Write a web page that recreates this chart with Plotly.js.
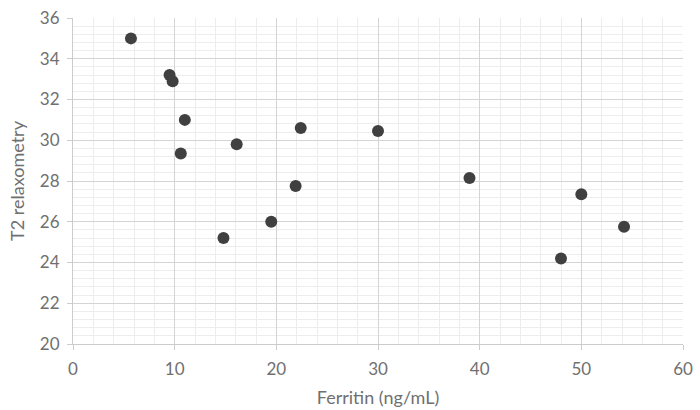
<!DOCTYPE html>
<html>
<head>
<meta charset="utf-8">
<script src="https://cdn.plot.ly/plotly-3.0.1.min.js"></script>
<style>html,body{margin:0;padding:0;background:#fff;}#chart{width:700px;height:410px;}</style>
</head>
<body>
<div id="chart"></div>
<script>
var ferritin = [5.7, 9.5, 9.8, 11.0, 10.6, 16.1, 14.8, 19.5, 22.4, 21.9, 30.0, 39.0, 48.0, 50.0, 54.2];
var t2 = [35.0, 33.2, 32.9, 31.0, 29.35, 29.8, 25.2, 26.0, 30.6, 27.75, 30.45, 28.15, 24.2, 27.35, 25.75];
var xTitle = "Ferritin (ng/mL)";
var yTitle = "T2 relaxometry";

var tickFont = {family: "Lato, 'Open Sans', sans-serif", size: 17, color: "#707070"};
var titleFont = {family: "Lato, 'Open Sans', sans-serif", size: 18, color: "#707070"};
Plotly.newPlot("chart", [{
  type: "scatter", mode: "markers",
  x: ferritin, y: t2,
  marker: {size: 12, color: "#404040"},
  hoverinfo: "x+y"
}], {
  width: 700, height: 410,
  margin: {l: 73, r: 17, t: 18, b: 66},
  paper_bgcolor: "#fff", plot_bgcolor: "#fff",
  showlegend: false,
  font: tickFont,
  xaxis: {
    range: [0, 60], dtick: 10, tick0: 0,
    showgrid: true, gridcolor: "#d4d4d4", gridwidth: 1,
    minor: {dtick: 2, showgrid: true, gridcolor: "#ededed", gridwidth: 1},
    zeroline: false, showline: true, linecolor: "#cccccc",
    ticks: "outside", ticklen: 5, tickcolor: "#cccccc",
    ticklabelstandoff: 5,
    tickfont: tickFont,
    title: {text: xTitle, font: titleFont, standoff: 12}
  },
  yaxis: {
    range: [20, 36], dtick: 2, tick0: 20,
    showgrid: true, gridcolor: "#d4d4d4", gridwidth: 1,
    minor: {dtick: 0.4, showgrid: true, gridcolor: "#ededed", gridwidth: 1},
    zeroline: false, showline: true, linecolor: "#cccccc",
    ticks: "outside", ticklen: 5, tickcolor: "#cccccc",
    ticklabelstandoff: 4,
    tickfont: tickFont,
    title: {text: yTitle, font: titleFont, standoff: 10}
  }
}, {displayModeBar: false, staticPlot: true});
</script>
</body>
</html>
